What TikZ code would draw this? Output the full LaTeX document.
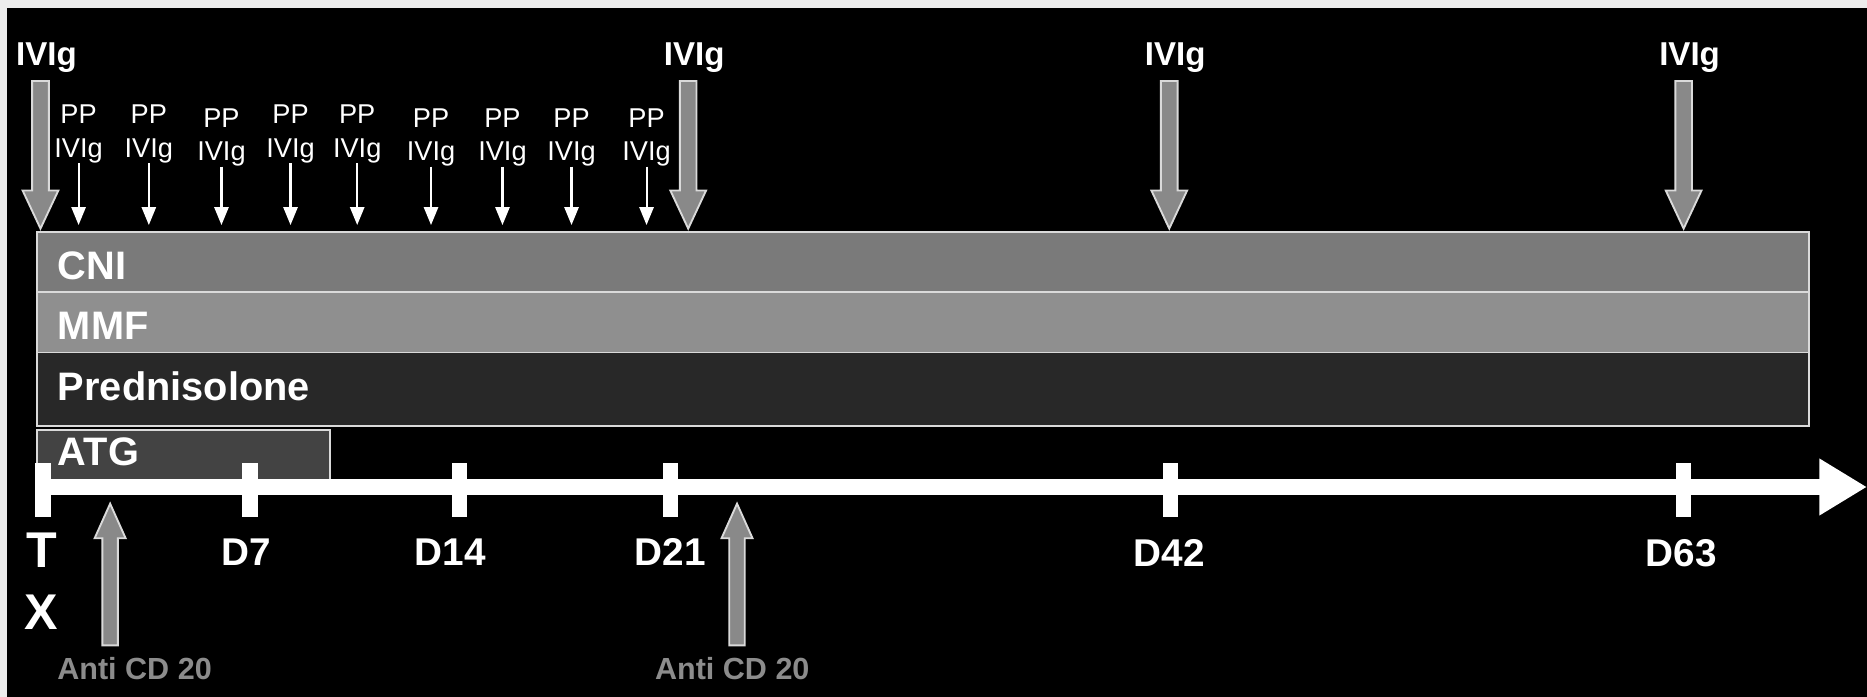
\documentclass[tikz,border=0pt]{standalone}
\usepackage{fontspec}
\setmainfont{Liberation Sans}
\usetikzlibrary{arrows.meta}
\definecolor{cnic}{HTML}{7A7A7A}
\definecolor{mmfc}{HTML}{8F8F8F}
\definecolor{predc}{HTML}{282828}
\definecolor{atgc}{HTML}{434343}
\definecolor{arrc}{HTML}{898989}
\definecolor{edgec}{HTML}{DADADA}
\definecolor{antic}{HTML}{8C8C8C}
\definecolor{topc}{HTML}{EDEDED}
\begin{document}
\begin{tikzpicture}[x=0.1mm,y=-0.1mm,
 barlab/.style={anchor=base west,text=white,font=\bfseries\fontsize{9.5}{10}\selectfont,inner sep=0},
 ivig/.style={anchor=base,text=white,font=\bfseries\fontsize{7.9}{9}\selectfont,inner sep=0},
 daylab/.style={anchor=base,text=white,font=\bfseries\fontsize{9.25}{10}\selectfont,inner sep=0},
 txlab/.style={anchor=base,text=white,font=\bfseries\fontsize{12}{13}\selectfont,inner sep=0},
 pplab/.style={anchor=base,text=white,font=\fontsize{6.5}{7}\selectfont,inner sep=0},
 antilab/.style={anchor=base,text=antic,font=\bfseries\fontsize{7.3}{8}\selectfont,inner sep=0},
 barbox/.style={draw=edgec,line width=0.45pt},
 blockarr/.style={fill=arrc,draw=edgec,line width=0.45pt,line join=miter},
 smallarr/.style={draw=white,line width=0.5pt,-{Triangle[width=3.4pt,length=4.3pt]}},
 daytick/.style={fill=white},
 axisline/.style={draw=white,line width=3.7pt,-{Triangle[width=12.8pt,length=11.4pt]}}
]
% background
\fill[topc] (0,0) rectangle (1568,585);
\fill[black] (6,7) rectangle (1568,585);
\useasboundingbox (0,0) rectangle (1568,585);

% therapy bars
\draw[barbox,fill=cnic] (31,195) rectangle (1519,245);
\draw[barbox,fill=mmfc] (31,245) rectangle (1519,296);
\draw[barbox,fill=predc] (31,296) rectangle (1519,358);
\draw[barbox,fill=atgc] (31,361) rectangle (277,405);
\node[barlab] (cni) at (48,235) {CNI};
\node[barlab] (mmf) at (48,285) {MMF};
\node[barlab] (pred) at (48,336) {Prednisolone};
\node[barlab] (atg) at (48,391) {ATG};

% time axis
\coordinate (axstart) at (31,409);
\coordinate (axend) at (1568,409);
\draw[axisline] (axstart) -- (axend);
\foreach \x in {36,210,386,563,983,1414}{
  \fill[daytick] (\x-6.5,389) rectangle (\x+6.5,434);
}
\node[txlab] (t) at (35,477) {T};
\node[txlab] (xx) at (35,529) {X};
\node[daylab] (d7) at (207,475) {D7};
\node[daylab] (d14) at (378,475) {D14};
\node[daylab] (d21) at (563,475) {D21};
\node[daylab] (d42) at (982,476) {D42};
\node[daylab] (d63) at (1412,476) {D63};

% big IVIg arrows
\foreach \x in {34,578,982,1414}{
  \node[ivig] (ivig\x) at (\x+5,55) {IVIg};
  \draw[blockarr] (\x-7,68) -- (\x+7,68) -- (\x+7,160) -- (\x+15,160) -- (\x,192)
     -- (\x-15,160) -- (\x-7,160) -- cycle;
}

% small PP / IVIg arrows
\foreach \x/\d in {66/0,125/0,186/3,244/0,300/0,362/3,422/3,480/3,543/3}{
  \node[pplab] (pp\x) at (\x,104+\d) {PP};
  \node[pplab] (iv\x) at (\x,132+\d) {IVIg};
  \coordinate (s\x) at (\x,137+\d);
  \coordinate (e\x) at (\x,189);
  \draw[smallarr] (s\x) -- (e\x);
}

% anti CD 20 arrows
\foreach \x/\lx [count=\i] in {92.5/113,619/615}{
  \draw[blockarr] (\x-6.5,542) -- (\x+6.5,542) -- (\x+6.5,452) -- (\x+13,452) -- (\x,423)
     -- (\x-13,452) -- (\x-6.5,452) -- cycle;
  \node[antilab] (anti\i) at (\lx,571) {Anti CD 20};
}
\end{tikzpicture}
\end{document}
